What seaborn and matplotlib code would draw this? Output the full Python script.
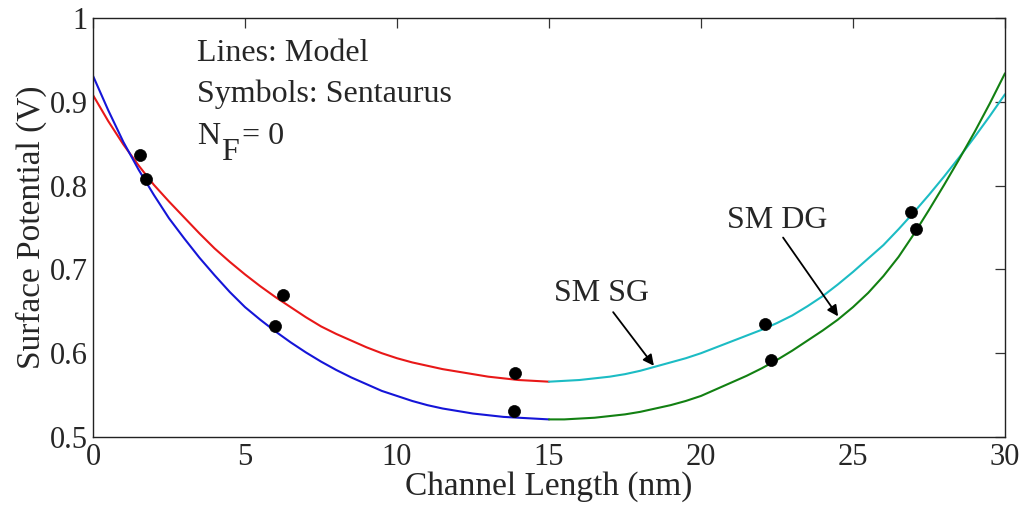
import matplotlib
matplotlib.use("Agg")
import matplotlib.pyplot as plt
import seaborn as sns
import pandas as pd

# ---- data ----
x_left = [0, 0.5, 1, 1.5, 2, 2.5, 3, 3.5, 4, 4.5, 5, 5.5, 6, 6.5, 7, 7.5,
          8, 8.5, 9, 9.5, 10, 10.5, 11, 11.5, 12, 12.5, 13, 13.5, 14, 14.5, 15]
sg_left = [0.908, 0.877, 0.849, 0.824, 0.801, 0.781, 0.762, 0.743, 0.725, 0.709,
           0.694, 0.680, 0.667, 0.655, 0.643, 0.632, 0.623, 0.615, 0.607, 0.600,
           0.594, 0.589, 0.585, 0.581, 0.578, 0.575, 0.572, 0.570, 0.568, 0.567, 0.566]
dg_left = [0.931, 0.890, 0.852, 0.819, 0.789, 0.761, 0.737, 0.714, 0.693, 0.673,
           0.655, 0.640, 0.626, 0.613, 0.601, 0.590, 0.580, 0.571, 0.563, 0.555,
           0.549, 0.543, 0.538, 0.534, 0.531, 0.528, 0.526, 0.524, 0.523, 0.522, 0.521]

x_right = [15, 15.5, 16, 16.5, 17, 17.5, 18, 18.5, 19, 19.5, 20, 20.5, 21, 21.5,
           22, 22.5, 23, 23.5, 24, 24.5, 25, 25.5, 26, 26.5, 27, 27.5, 28, 28.5,
           29, 29.5, 30]
sg_right = [0.566, 0.567, 0.568, 0.570, 0.572, 0.575, 0.579, 0.584, 0.589, 0.594,
            0.600, 0.607, 0.614, 0.621, 0.628, 0.636, 0.645, 0.656, 0.668, 0.682,
            0.697, 0.713, 0.729, 0.748, 0.768, 0.789, 0.811, 0.834, 0.858, 0.883, 0.909]
dg_right = [0.521, 0.521, 0.522, 0.523, 0.525, 0.527, 0.530, 0.534, 0.538, 0.543,
            0.549, 0.557, 0.565, 0.573, 0.582, 0.592, 0.603, 0.615, 0.627, 0.640,
            0.655, 0.672, 0.692, 0.715, 0.742, 0.771, 0.801, 0.832, 0.864, 0.898, 0.934]

sim_x = [1.56, 6.26, 13.89, 22.12, 26.90, 1.75, 5.99, 13.86, 22.29, 27.07]
sim_y = [0.836, 0.669, 0.576, 0.635, 0.768, 0.808, 0.633, 0.531, 0.592, 0.748]

x_ticks = [0, 5, 10, 15, 20, 25, 30]
y_ticks = [0.5, 0.6, 0.7, 0.8, 0.9, 1.0]
y_ticklabels = ["0.5", "0.6", "0.7", "0.8", "0.9", "1"]

# ---- style ----
sns.set_theme(style="white")
plt.rcParams["font.family"] = ["Liberation Serif", "DejaVu Serif"]

fig = plt.figure(figsize=(10.24, 5.14), dpi=100)
ax = fig.add_axes([93 / 1024, 1 - 437 / 514, (1005 - 93) / 1024, (437 - 18) / 514])

lines = [
    (x_left, sg_left, "#e81818"),
    (x_left, dg_left, "#1515d8"),
    (x_right, sg_right, "#1cbcc4"),
    (x_right, dg_right, "#128012"),
]
for xs, ys, col in lines:
    df = pd.DataFrame({"x": xs, "y": ys})
    sns.lineplot(data=df, x="x", y="y", ax=ax, color=col, linewidth=1.5,
                 estimator=None, sort=False)

df_pts = pd.DataFrame({"x": sim_x, "y": sim_y})
sns.scatterplot(data=df_pts, x="x", y="y", ax=ax, color="black", s=75,
                marker="o", edgecolor="black", linewidth=0.5, zorder=5)

ax.set_xlim(0, 30)
ax.set_ylim(0.5, 1.0)
ax.set_xticks(x_ticks)
ax.set_yticks(y_ticks)
ax.set_yticklabels(y_ticklabels)
ax.tick_params(direction="in", length=7, width=0.9, color="#333333",
               top=True, right=True, labelsize=22, pad=4)
for s in ax.spines.values():
    s.set_color("#222222")
    s.set_linewidth(1.0)

ax.set_xlabel("Channel Length (nm)", fontsize=24, labelpad=0)
ax.set_ylabel("Surface Potential (V)", fontsize=24, labelpad=2)

# annotations
fs = 23
ax.text(3.42, 0.949, "Lines: Model", fontsize=fs)
ax.text(3.42, 0.900, "Symbols: Sentaurus", fontsize=fs)
ax.text(3.42, 0.850, "N", fontsize=fs)
ax.text(4.22, 0.831, "F", fontsize=fs)
ax.text(4.90, 0.850, "= 0", fontsize=fs)

arrow = dict(arrowstyle="-|>", color="black", lw=1.3, mutation_scale=16,
             shrinkA=0, shrinkB=0)
ax.text(15.16, 0.662, "SM SG", fontsize=fs)
ax.annotate("", xy=(18.45, 0.585), xytext=(17.11, 0.649), arrowprops=arrow)
ax.text(20.86, 0.750, "SM DG", fontsize=fs)
ax.annotate("", xy=(24.51, 0.644), xytext=(22.70, 0.738), arrowprops=arrow)

fig.savefig("out.png", dpi=100)
